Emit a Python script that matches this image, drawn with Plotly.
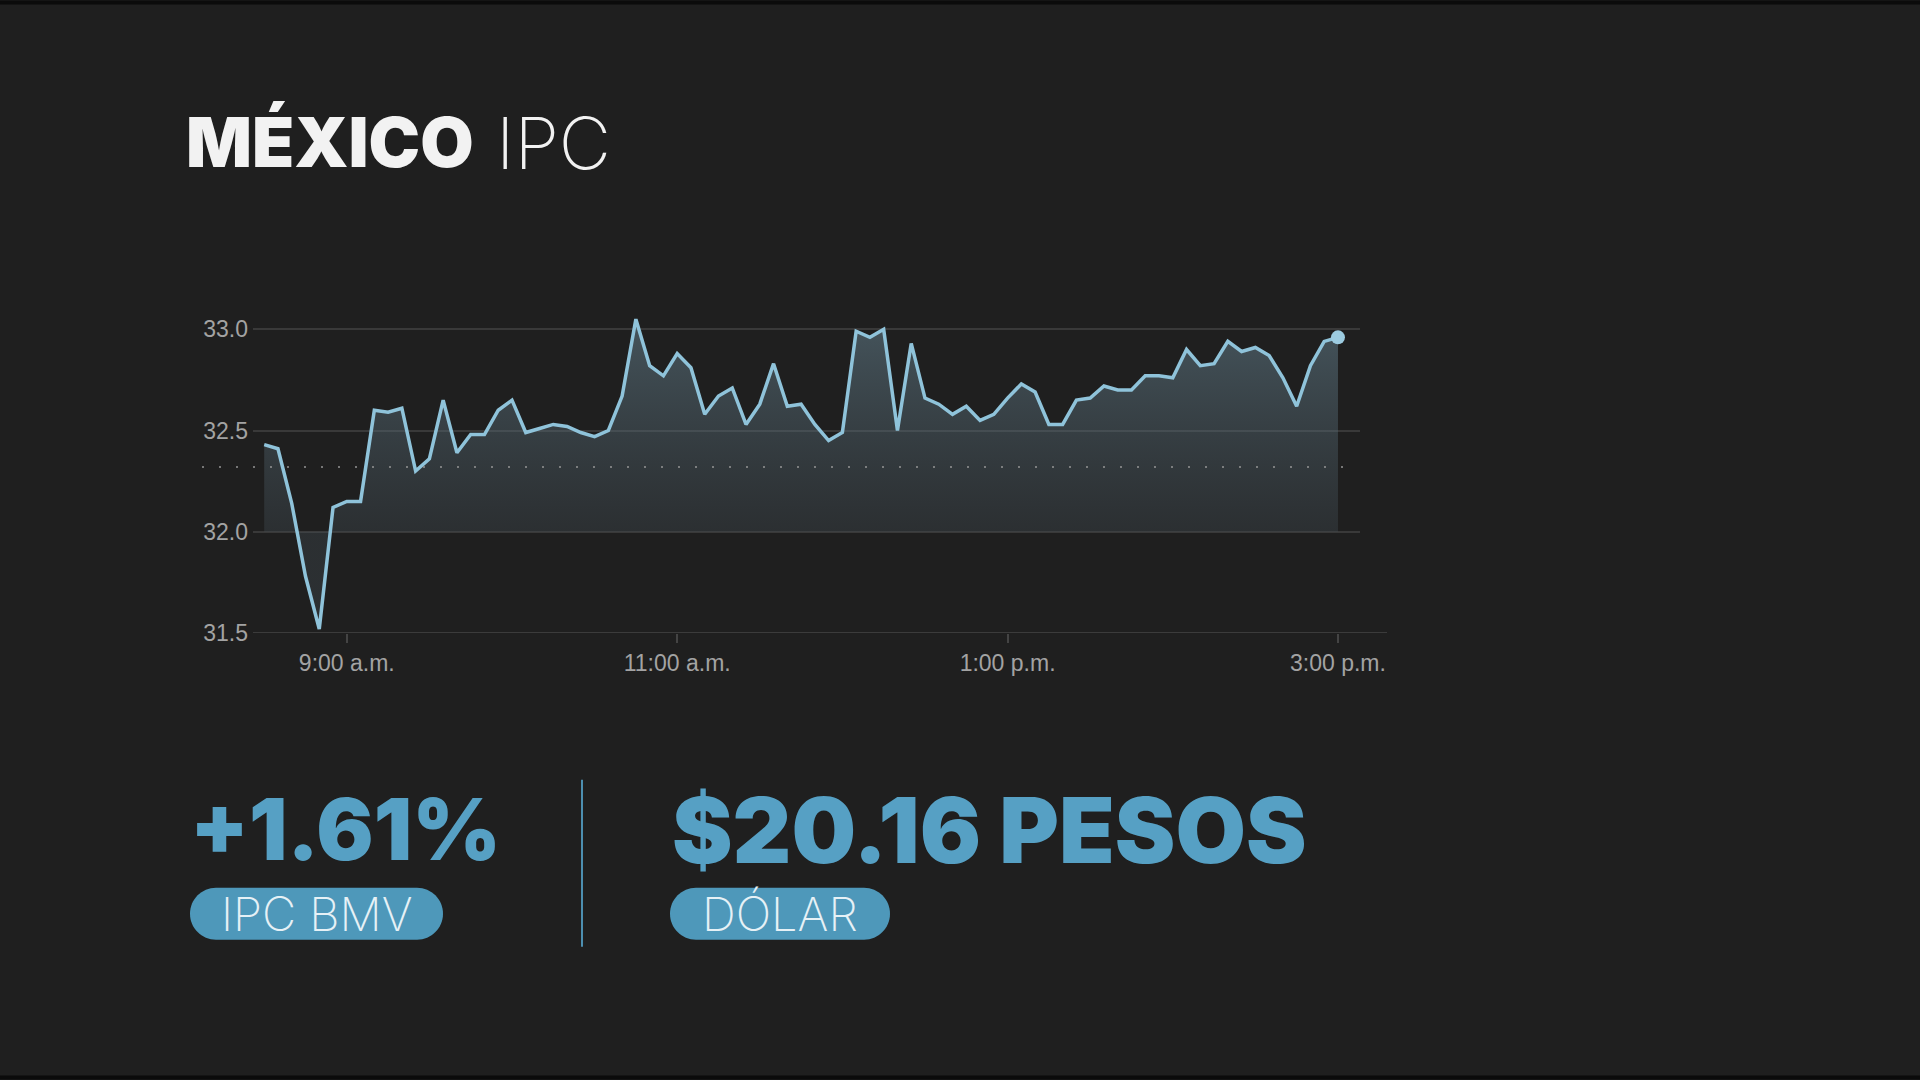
import plotly.graph_objects as go

# ---------------- data ----------------
TIMES = [
    "08:30", "08:35", "08:40", "08:45", "08:50", "08:55",
    "09:00", "09:05", "09:10", "09:15", "09:20", "09:25", "09:30", "09:35", "09:40", "09:45", "09:50", "09:55",
    "10:00", "10:05", "10:10", "10:15", "10:20", "10:25", "10:30", "10:35", "10:40", "10:45", "10:50", "10:55",
    "11:00", "11:05", "11:10", "11:15", "11:20", "11:25", "11:30", "11:35", "11:40", "11:45", "11:50", "11:55",
    "12:00", "12:05", "12:10", "12:15", "12:20", "12:25", "12:30", "12:35", "12:40", "12:45", "12:50", "12:55",
    "13:00", "13:05", "13:10", "13:15", "13:20", "13:25", "13:30", "13:35", "13:40", "13:45", "13:50", "13:55",
    "14:00", "14:05", "14:10", "14:15", "14:20", "14:25", "14:30", "14:35", "14:40", "14:45", "14:50", "14:55",
    "15:00",
]
IPC_VALUES = [
    32.43, 32.41, 32.14, 31.78, 31.52, 32.12, 32.15, 32.15, 32.60, 32.59, 32.61, 32.30,
    32.36, 32.65, 32.39, 32.48, 32.48, 32.60, 32.65, 32.49, 32.51, 32.53, 32.52, 32.49,
    32.47, 32.50, 32.67, 33.05, 32.82, 32.77, 32.88, 32.81,
    32.58, 32.67, 32.71, 32.53, 32.63, 32.83, 32.62, 32.63, 32.53, 32.45, 32.49, 32.99,
    32.96, 33.00, 32.50, 32.93, 32.66, 32.63, 32.58, 32.62, 32.55, 32.58, 32.66, 32.73,
    32.69, 32.53, 32.53, 32.65, 32.66, 32.72, 32.70,
    32.70, 32.77, 32.77, 32.76, 32.90, 32.82, 32.83, 32.94, 32.89, 32.91, 32.87, 32.76,
    32.62, 32.82, 32.94, 32.96,
]
PREV_CLOSE = 32.32
FILL_BASE = 32.0
Y_TICKS = [31.5, 32.0, 32.5, 33.0]
X_TICKS = ["09:00", "11:00", "13:00", "15:00"]
X_TICK_TEXT = ["9:00 a.m.", "11:00 a.m.", "1:00 p.m.", "3:00 p.m."]
TITLE_BOLD = "MÉXICO"
TITLE_LIGHT = "IPC"
IPC_CHANGE = "+1.61%"
IPC_LABEL = "IPC BMV"
USD_VALUE = "$20.16 PESOS"
USD_LABEL = "DÓLAR"

DAY = "2024-01-01 "
x = [DAY + t for t in TIMES]

# ---------------- geometry helpers (pixels -> paper) ----------------
W, H = 1920, 1080
L, R = 253, 1360
T, B = 308.7, 633
PW, PH = R - L, B - T


def px(v):
    return (v - L) / PW


def py(v):
    return (B - v) / PH


BG = "#1f1f1f"
BLUE = "#56a0c4"
PILL = "#4e98ba"
LINE = "#8fc3da"

fig = go.Figure()

# baseline for the fill
fig.add_trace(go.Scatter(
    x=x, y=[FILL_BASE] * len(x), mode="lines",
    line=dict(width=0, color="rgba(0,0,0,0)"), hoverinfo="skip", showlegend=False,
))
# main series with gradient area
fig.add_trace(go.Scatter(
    x=x, y=IPC_VALUES, mode="lines",
    line=dict(color=LINE, width=3.5),
    fill="tonexty",
    fillgradient=dict(
        type="vertical",
        start=FILL_BASE, stop=max(IPC_VALUES),
        colorscale=[[0, "rgba(70,82,90,0.32)"], [1, "rgba(105,135,150,0.52)"]],
    ),
    hoverinfo="skip", showlegend=False,
))
# last point marker
fig.add_trace(go.Scatter(
    x=[x[-1]], y=[IPC_VALUES[-1]], mode="markers",
    marker=dict(size=14, color="#9ccbe0"),
    hoverinfo="skip", showlegend=False,
))

shapes = []
# dotted previous-close line
shapes.append(dict(
    type="line", xref="paper", yref="y",
    x0=px(202), x1=px(1345), y0=PREV_CLOSE, y1=PREV_CLOSE,
    line=dict(color="rgba(150,150,150,0.75)", width=2, dash="2px,15px"), layer="above",
))
# bottom axis line (longer than grid)
shapes.append(dict(
    type="line", xref="paper", yref="y",
    x0=px(253), x1=px(1387), y0=Y_TICKS[0], y1=Y_TICKS[0],
    line=dict(color="#3b3b3b", width=2), layer="below",
))
# divider
shapes.append(dict(
    type="line", xref="paper", yref="paper",
    x0=px(582), x1=px(582), y0=py(780), y1=py(947),
    line=dict(color="#4d8fb0", width=2),
))
# top / bottom dark bands
shapes.append(dict(type="rect", xref="paper", yref="paper",
                   x0=px(0), x1=px(W), y0=py(0), y1=py(4),
                   fillcolor="#0b0b0b", line=dict(width=0)))
shapes.append(dict(type="rect", xref="paper", yref="paper",
                   x0=px(0), x1=px(W), y0=py(1076), y1=py(1080),
                   fillcolor="#0b0b0b", line=dict(width=0)))


def pill_path(x0, x1, y0, y1):
    r = (y1 - y0) / 2
    k = 0.5523 * r
    X = lambda v: px(v)
    Y = lambda v: py(v)
    pts = [
        f"M {X(x0 + r)},{Y(y0)}",
        f"L {X(x1 - r)},{Y(y0)}",
        f"C {X(x1 - r + k)},{Y(y0)} {X(x1)},{Y(y0 + r - k)} {X(x1)},{Y(y0 + r)}",
        f"C {X(x1)},{Y(y0 + r + k)} {X(x1 - r + k)},{Y(y1)} {X(x1 - r)},{Y(y1)}",
        f"L {X(x0 + r)},{Y(y1)}",
        f"C {X(x0 + r - k)},{Y(y1)} {X(x0)},{Y(y1 - r + k)} {X(x0)},{Y(y1 - r)}",
        f"C {X(x0)},{Y(y0 + r - k)} {X(x0 + r - k)},{Y(y0)} {X(x0 + r)},{Y(y0)}",
        "Z",
    ]
    return " ".join(pts)


shapes.append(dict(type="path", xref="paper", yref="paper",
                   path=pill_path(190, 443, 888, 940),
                   fillcolor=PILL, line=dict(width=0)))
shapes.append(dict(type="path", xref="paper", yref="paper",
                   path=pill_path(670, 890, 888, 940),
                   fillcolor=PILL, line=dict(width=0)))

annotations = [
    dict(text=TITLE_BOLD, x=px(184), y=py(142), xref="paper", yref="paper",
         xanchor="left", yanchor="middle", showarrow=False,
         font=dict(family="Inter", size=69, color="#f2f2f2", weight=900)),
    dict(text=TITLE_LIGHT, x=px(494), y=py(142), xref="paper", yref="paper",
         xanchor="left", yanchor="middle", showarrow=False,
         font=dict(family="Inter", size=72, color="#f2f2f2", weight=200)),
    dict(text=IPC_CHANGE, x=px(188), y=py(830), xref="paper", yref="paper",
         xanchor="left", yanchor="middle", showarrow=False,
         font=dict(family="Inter", size=85, color=BLUE, weight=900)),
    dict(text=USD_VALUE, x=px(670), y=py(830), xref="paper", yref="paper",
         xanchor="left", yanchor="middle", showarrow=False,
         font=dict(family="Inter", size=91, color=BLUE, weight=900)),
    dict(text=IPC_LABEL, x=px(316.5), y=py(914), xref="paper", yref="paper",
         xanchor="center", yanchor="middle", showarrow=False,
         font=dict(family="Inter", size=47, color="#e6f1f6", weight=200)),
    dict(text=USD_LABEL, x=px(780), y=py(914), xref="paper", yref="paper",
         xanchor="center", yanchor="middle", showarrow=False,
         font=dict(family="Inter", size=47, color="#e6f1f6", weight=200)),
]

fig.update_layout(
    width=W, height=H,
    margin=dict(l=L, r=W - R, t=T, b=H - B, pad=0),
    paper_bgcolor=BG, plot_bgcolor=BG,
    showlegend=False,
    shapes=shapes,
    annotations=annotations,
    xaxis=dict(
        type="date",
        range=[DAY + "08:25:56", DAY + "15:08:00"],
        tickvals=[DAY + t for t in X_TICKS], ticktext=X_TICK_TEXT,
        showgrid=False, zeroline=False, showline=False,
        ticks="outside", ticklen=9, tickwidth=1.5, tickcolor="#444444",
        tickfont=dict(family="Liberation Sans", size=23, color="#a3a3a3"),
        fixedrange=True,
    ),
    yaxis=dict(
        range=[31.5, 33.1],
        tickvals=Y_TICKS, tickformat=".1f",
        showgrid=True, gridcolor="#393939", gridwidth=2,
        zeroline=False, showline=False, ticks="",
        ticklabelstandoff=4,
        tickfont=dict(family="Liberation Sans", size=23, color="#a3a3a3"),
        fixedrange=True,
    ),
)

fig.write_html("out.html")
